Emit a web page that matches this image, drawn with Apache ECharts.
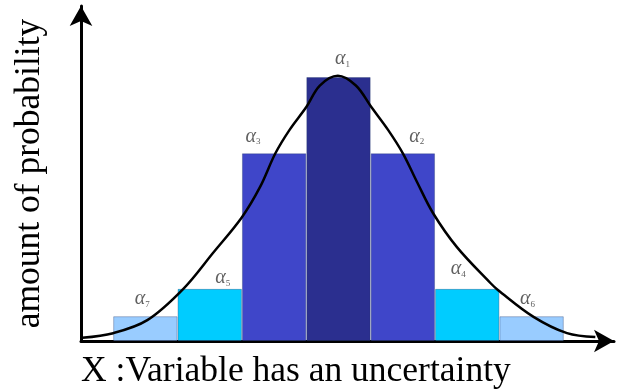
<!DOCTYPE html>
<html>
<head>
<meta charset="utf-8">
<script src="https://cdn.jsdelivr.net/npm/echarts@6/dist/echarts.min.js"></script>
<style>
html,body{margin:0;padding:0;background:#fff;}
#chart{width:619px;height:389px;}
</style>
</head>
<body>
<div id="chart"></div>
<script>
// ---- data ----
var barNames = ['7', '5', '3', '1', '2', '4', '6'];           // subscript of alpha, left to right
var barX = [1, 2, 3, 4, 5, 6, 7];                              // bin centres
var barValues = [0.038, 0.080, 0.288, 0.405, 0.288, 0.080, 0.038];
var barColors = ['#99CCFF', '#00CCFF', '#3F46C9', '#2B2F8F', '#3F46C9', '#00CCFF', '#99CCFF'];
var curveX = [0.02, 0.50, 1.03, 1.59, 2.05, 2.50, 2.78, 3.02, 3.24, 3.50, 3.71, 3.99, 4.27, 4.51, 4.77, 5.00, 5.22, 5.47, 5.84, 6.36, 6.48, 7.03, 7.55, 7.99];
var curveY = [0.005, 0.012, 0.032, 0.080, 0.135, 0.190, 0.236, 0.288, 0.324, 0.359, 0.392, 0.407, 0.392, 0.359, 0.324, 0.288, 0.244, 0.196, 0.144, 0.089, 0.078, 0.037, 0.012, 0.006];
var xTitle = 'X :Variable has an uncertainty';
var yTitle = 'amount of probability';

// ---- layout ----
var labelOffsets = [[-3, -2], [13, 4], [-21, -2], [4, -3], [14, -2], [-9, -5], [-4, -2]];
var X_MAX = 8.28, Y_MAX = 0.514;
var GRID = {left: 81, right: 5, top: 6, bottom: 48, outerBoundsMode: 'none', containLabel: false};
var plotW = 619 - GRID.left - GRID.right;
var barW = plotW / X_MAX;

var chart = echarts.init(document.getElementById('chart'), null, {renderer: 'canvas'});

var barData = barX.map(function (x, i) {
  return {
    value: [x, barValues[i]],
    name: barNames[i],
    itemStyle: {color: barColors[i]},
    label: {offset: labelOffsets[i]}
  };
});
var curveData = curveX.map(function (x, i) { return [x, curveY[i]]; });

var serifFont = '"Liberation Serif", "Times New Roman", serif';

chart.setOption({
  animation: false,
  backgroundColor: '#ffffff',
  grid: GRID,
  xAxis: {
    type: 'value', min: 0, max: X_MAX,
    name: xTitle, nameLocation: 'start', nameGap: 0,
    nameTextStyle: {fontFamily: serifFont, fontSize: 35.5, color: '#000', align: 'left', verticalAlign: 'top', padding: [13, 0, 0, 0]},
    axisLine: {show: true, onZero: false, lineStyle: {color: '#000', width: 3},
      symbol: ['none', 'arrow'], symbolSize: [17, 20]},
    axisTick: {show: false}, axisLabel: {show: false}, splitLine: {show: false}
  },
  yAxis: {
    type: 'value', min: 0, max: Y_MAX,
    name: yTitle, nameLocation: 'middle', nameGap: 33, nameRotate: 90,
    nameTextStyle: {fontFamily: serifFont, fontSize: 35.5, color: '#000'},
    axisLine: {show: true, lineStyle: {color: '#000', width: 3},
      symbol: ['none', 'arrow'], symbolSize: [17, 20]},
    axisTick: {show: false}, axisLabel: {show: false}, splitLine: {show: false}
  },
  series: [
    {
      type: 'bar',
      data: barData,
      barWidth: barW,
      itemStyle: {borderColor: 'rgba(40,60,110,0.35)', borderWidth: 1},
      label: {
        show: true, position: 'top',
        formatter: function (p) { return '{a|α}{s|' + p.name + '}'; },
        rich: {
          a: {fontFamily: serifFont, fontStyle: 'italic', fontSize: 20, color: '#606060', lineHeight: 20},
          s: {fontFamily: serifFont, fontSize: 9, color: '#606060', lineHeight: 20, verticalAlign: 'bottom', padding: [8, 0, 0, 0]}
        }
      },
      z: 2
    },
    {
      type: 'line',
      data: curveData,
      smooth: 0.35,
      symbol: 'none',
      lineStyle: {color: '#000', width: 2.5},
      z: 3
    }
  ]
});
</script>
</body>
</html>
